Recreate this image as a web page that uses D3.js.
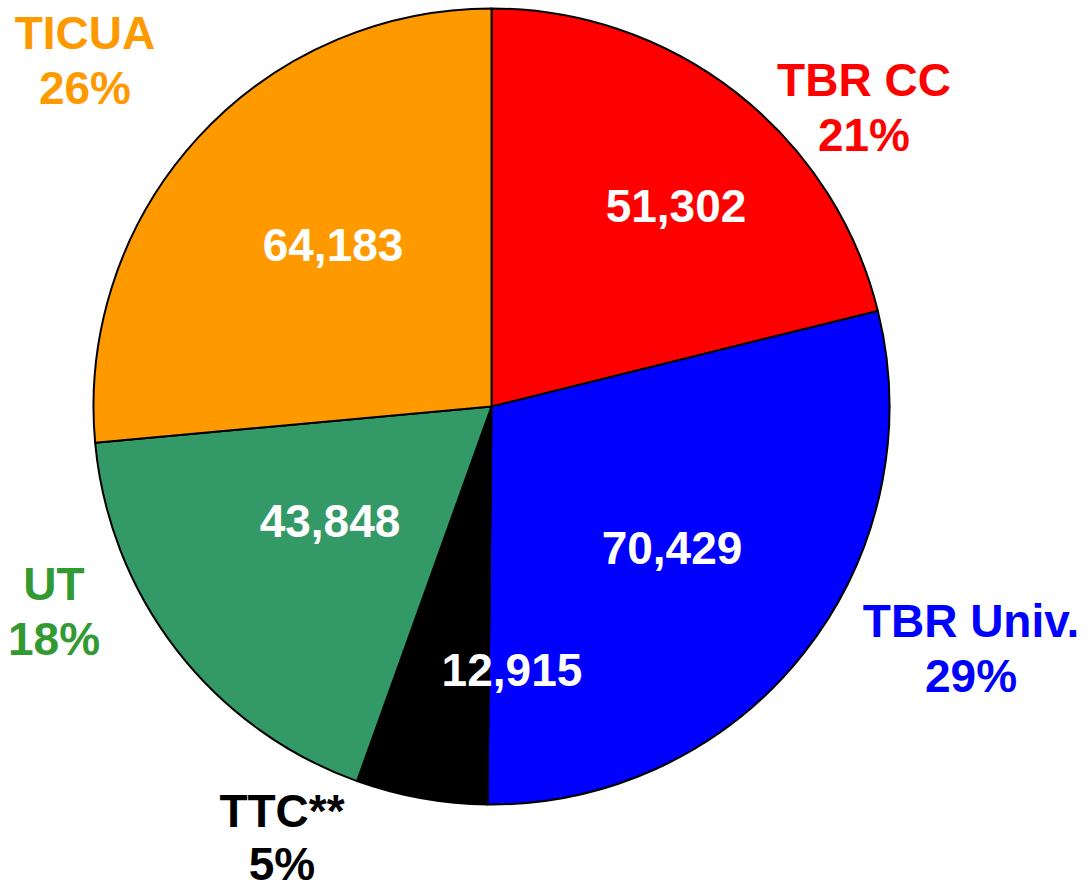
<!DOCTYPE html>
<html>
<head>
<meta charset="utf-8">
<script src="https://cdn.jsdelivr.net/npm/d3@7"></script>
<style>
  html, body { margin: 0; padding: 0; background: #ffffff; }
  svg { display: block; }
  text { font-family: "Liberation Sans", Arial, sans-serif; font-weight: bold; }
</style>
</head>
<body>
<svg id="chart" width="1089" height="888"></svg>
<script>
// ---- data ----
const categories = ["TBR CC", "TBR Univ.", "TTC**", "UT", "TICUA"];
const values = [51302, 70429, 12915, 43848, 64183];
const sliceColors = ["#FF0000", "#0000FF", "#000000", "#339966", "#FF9900"];
const labelColors = ["#FF0000", "#0000FF", "#000000", "#339933", "#FF9900"];

// ---- layout ----
const W = 1089, H = 888;
const cx = 491.5, cy = 406.5, R = 398;
const fontSize = 46, lineGap = 55;
// nudges relative to the computed centroids (label placement like the original)
const innerNudge = [[36.6, 4.5], [-7.7, 8.6], [62.8, 43.3], [28.3, -16.4], [18.8, 16.3]];
const outerNudge = [[82.8, 59.6], [110.9, -61.1], [-126.6, -42], [-65.8, -94.2], [-59.4, -40.7]];
const outerGap = [55, 55, 53, 55, 55];

const data = categories.map((c, i) => ({ name: c, value: values[i], i }));
const total = d3.sum(values);

const svg = d3.select("#chart");
const g = svg.append("g").attr("transform", `translate(${cx},${cy})`);

const pie = d3.pie().value(d => d.value).sort(null);
const arcs = pie(data);

const arc = d3.arc().innerRadius(0).outerRadius(R);
const innerArc = d3.arc().innerRadius(240).outerRadius(240);
const outerArc = d3.arc().innerRadius(470).outerRadius(470);

g.selectAll("path.slice")
  .data(arcs)
  .enter().append("path")
  .attr("class", "slice")
  .attr("d", arc)
  .attr("fill", d => sliceColors[d.data.i])
  .attr("stroke", "#000")
  .attr("stroke-width", 2)
  .attr("stroke-linejoin", "round");

const fmt = d3.format(",");

g.selectAll("text.val")
  .data(arcs)
  .enter().append("text")
  .attr("class", "val")
  .attr("x", d => innerArc.centroid(d)[0] + innerNudge[d.data.i][0])
  .attr("y", d => innerArc.centroid(d)[1] + innerNudge[d.data.i][1])
  .attr("text-anchor", "middle")
  .attr("font-size", fontSize)
  .attr("fill", "#ffffff")
  .text(d => fmt(d.data.value));

const outer = g.selectAll("text.cat")
  .data(arcs)
  .enter().append("text")
  .attr("class", "cat")
  .attr("text-anchor", "middle")
  .attr("font-size", fontSize)
  .attr("fill", d => labelColors[d.data.i]);

outer.append("tspan")
  .attr("x", d => outerArc.centroid(d)[0] + outerNudge[d.data.i][0])
  .attr("y", d => outerArc.centroid(d)[1] + outerNudge[d.data.i][1])
  .text(d => d.data.name);

outer.append("tspan")
  .attr("x", d => outerArc.centroid(d)[0] + outerNudge[d.data.i][0])
  .attr("y", d => outerArc.centroid(d)[1] + outerNudge[d.data.i][1] + outerGap[d.data.i])
  .text(d => Math.round(d.data.value / total * 100) + "%");
</script>
</body>
</html>
